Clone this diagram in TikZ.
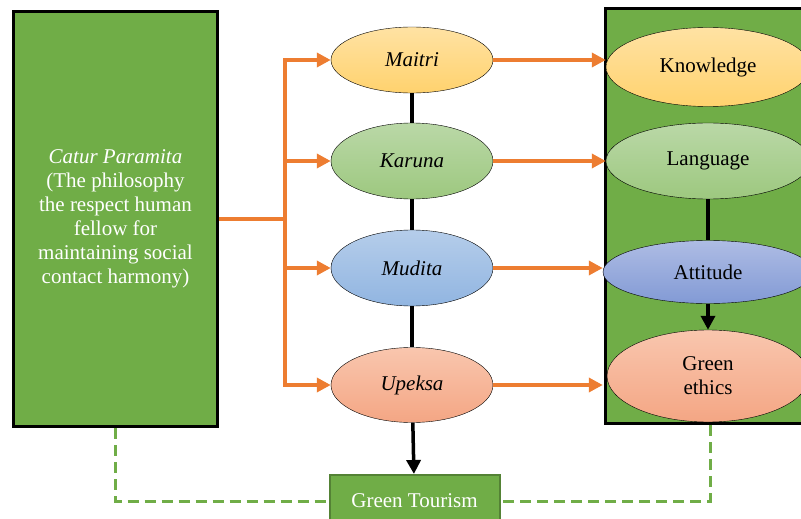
\documentclass[tikz,border=0pt]{standalone}
\usepackage{fontspec}
\setmainfont{Liberation Serif}
\usetikzlibrary{shapes.geometric,arrows.meta}
\definecolor{boxgreen}{RGB}{112,173,71}
\definecolor{darkgreen}{RGB}{84,130,53}
\definecolor{orangeline}{RGB}{237,125,49}
\definecolor{goldtop}{RGB}{255,226,163}
\definecolor{goldbot}{RGB}{255,210,110}
\definecolor{greentop}{RGB}{186,216,167}
\definecolor{greenbot}{RGB}{157,200,127}
\definecolor{bluetop}{RGB}{181,205,234}
\definecolor{bluebot}{RGB}{145,181,225}
\definecolor{violtop}{RGB}{174,188,228}
\definecolor{violbot}{RGB}{130,154,213}
\definecolor{peachtop}{RGB}{249,198,174}
\definecolor{peachbot}{RGB}{244,166,132}
\tikzset{
  oval/.style={ellipse,draw=black,thin,inner sep=0pt,font=\fontsize{21}{25}\selectfont},
  gold/.style={top color=goldtop,bottom color=goldbot},
  leaf/.style={top color=greentop,bottom color=greenbot},
  sky/.style={top color=bluetop,bottom color=bluebot},
  viol/.style={top color=violtop,bottom color=violbot},
  peach/.style={top color=peachtop,bottom color=peachbot},
  link/.style={line width=3.5pt,orangeline},
  bond/.style={line width=3.5pt,black},
  tie/.style={line width=3pt,boxgreen,dash pattern=on 11pt off 6pt}
}
\begin{document}
\begin{tikzpicture}[x=1pt,y=-1pt,>={Triangle[length=14pt,width=14pt]}]
\clip (0,0) rectangle (801,519);
\node[rectangle,draw=black,line width=3pt,fill=boxgreen,minimum width=204pt,minimum height=415pt,
  text=white,align=center,font=\fontsize{21}{24}\selectfont] (CP) at (115.5,219)
  {\textit{Catur Paramita}\\(The philosophy\\the respect human\\fellow for\\maintaining social\\contact harmony)};
\node[rectangle,draw=black,line width=3pt,fill=boxgreen,minimum width=210pt,minimum height=415pt] (GB) at (710,216) {};
\node[oval,gold,minimum width=162pt,minimum height=66pt] (Mai) at (412,60) {\textit{Maitri}};
\node[oval,leaf,minimum width=162pt,minimum height=76pt] (Kar) at (412,161) {\textit{Karuna}};
\node[oval,sky,minimum width=162pt,minimum height=76pt] (Mud) at (412,268) {\textit{Mudita}};
\node[oval,peach,minimum width=162pt,minimum height=75pt] (Upe) at (412,385) {\textit{Upeksa}};
\node[oval,gold,minimum width=204pt,minimum height=79pt] (Kno) at (708,67) {Knowledge};
\node[oval,leaf,minimum width=204pt,minimum height=76pt] (Lan) at (708,161) {Language};
\node[oval,viol,minimum width=210pt,minimum height=63pt] (Att) at (708,272) {Attitude};
\node[oval,peach,minimum width=202pt,minimum height=92pt,align=center,font=\fontsize{21}{24}\selectfont] (GE) at (708,376) {Green\\ethics};
\node[rectangle,draw=darkgreen,line width=2pt,fill=boxgreen,text=white,minimum width=170pt,minimum height=52pt,
  font=\fontsize{21}{25}\selectfont] (GT) at (414.5,501) {Green Tourism};
\coordinate (J) at (285,219);
\draw[link] (CP.east) -- (J);
\foreach \n in {Mai,Kar,Mud,Upe}
  \draw[link,->] (J) |- (\n.west);
\draw[link,->] (Mai.east) -- (Mai.east -| Kno.west);
\draw[link,->] (Kar.east) -- (Kar.east -| Lan.west);
\draw[link,->] (Mud.east) -- (Mud.east -| Att.west);
\draw[link,->] (Upe.east) -- ([xshift=-4pt]Upe.east -| GE.west);
\draw[bond] (Mai) -- (Kar);
\draw[bond] (Kar) -- (Mud);
\draw[bond] (Mud) -- (Upe);
\draw[bond,->] (Upe) -- (GT);
\draw[bond] (Lan) -- (Att);
\draw[bond,->] (Att) -- (GE);
\draw[tie] (CP.south) |- (GT.west);
\draw[tie] (GB.south) |- (GT.east);
\end{tikzpicture}
\end{document}
